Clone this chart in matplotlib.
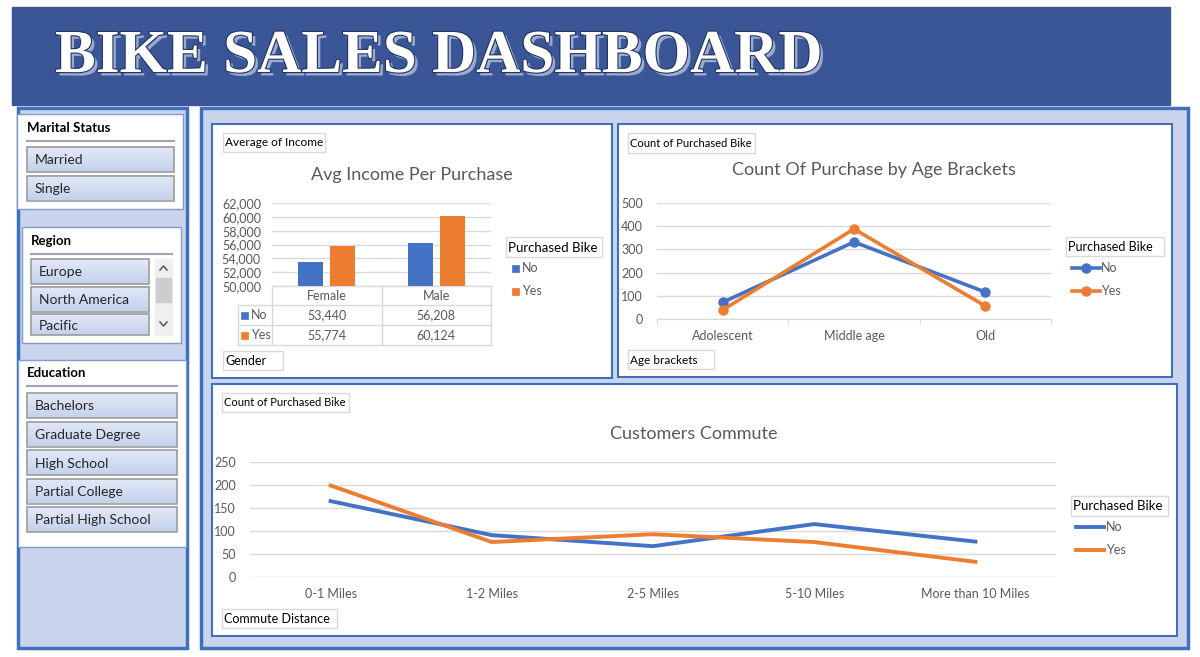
import numpy as np
import matplotlib
matplotlib.use('Agg')
import matplotlib.pyplot as plt
from matplotlib.patches import Rectangle
from matplotlib.colors import LinearSegmentedColormap
from matplotlib import patheffects as pe

plt.rcParams['font.family'] = ['Lato', 'DejaVu Sans']

# ---- data ----
genders = ['Female', 'Male']
income_no = [53440, 56208]
income_yes = [55774, 60124]

age_brackets = ['Adolescent', 'Middle age', 'Old']
age_no = [72, 332, 116]
age_yes = [39, 388, 56]

commute = ['0-1 Miles', '1-2 Miles', '2-5 Miles', '5-10 Miles', 'More than 10 Miles']
commute_no = [165, 91, 67, 115, 77]
commute_yes = [199, 76, 93, 76, 33]

marital = ['Married', 'Single']
regions = ['Europe', 'North America', 'Pacific']
education = ['Bachelors', 'Graduate Degree', 'High School', 'Partial College', 'Partial High School']

# ---- style ----
BLUE = '#4472C4'
ORANGE = '#ED7D31'
GRID = '#D9D9D9'
TXT = '#595959'
FRAME = '#3F6FBF'
PANEL = '#CAD4EC'
W, H = 1200, 657

fig = plt.figure(figsize=(12, 6.57), dpi=100)
bg = fig.add_axes([0, 0, 1, 1])
bg.axis('off')

btn_cmap = LinearSegmentedColormap.from_list('btn', ['#E3EAF7', '#C3D1EC'])


def box(x0, y0, x1, y1, fc='white', ec=FRAME, lw=1.0, z=1):
    bg.add_patch(Rectangle((x0, y0), x1 - x0, y1 - y0, facecolor=fc,
                           edgecolor=ec, linewidth=lw, zorder=z))


def button(x0, y0, x1, y1, label):
    grad = np.linspace(0, 1, 32).reshape(-1, 1)
    bg.imshow(grad, extent=(x0, x1, y1, y0), aspect='auto', cmap=btn_cmap,
              origin='upper', zorder=2)
    box(x0, y0, x1, y1, fc='none', ec='#9C9C9C', lw=1.2, z=3)
    bg.text(x0 + 8, (y0 + y1) / 2 + 1, label, fontsize=10, color='#262626',
            va='center', ha='left', zorder=4)


def slicer_title(x0, x1, y, label):
    bg.text(x0, y, label, fontsize=9.5, fontweight='bold', color='black',
            va='center', ha='left', zorder=4)
    bg.plot([x0, x1], [y + 13, y + 13], color='#9AA6B8', lw=1.5, zorder=4)


def label_box(x0, y0, x1, y1, label, size=8.5):
    box(x0, y0, x1, y1, fc='white', ec=GRID, lw=1, z=5)
    bg.text(x0 + 2, (y0 + y1) / 2 + 0.5, label, fontsize=size, color='black',
            va='center', ha='left', zorder=6)


def px_axes(x0, y0, x1, y1):
    ax = fig.add_axes([x0 / W, 1 - y1 / H, (x1 - x0) / W, (y1 - y0) / H])
    ax.set_facecolor('none')
    for s in ax.spines.values():
        s.set_visible(False)
    return ax


# ---- header ----
box(12, 7, 1170, 105, fc='#3B5697', ec='#3B5697', z=1)
bg.text(55, 57, 'BIKE SALES DASHBOARD', fontsize=44, fontweight='bold',
        family='Liberation Serif', color='white', va='center', ha='left', zorder=5,
        path_effects=[pe.SimplePatchShadow(offset=(2.5, -2.5), shadow_rgbFace='#9AAAD0', alpha=1),
                      pe.Stroke(linewidth=1.6, foreground='#22345F'), pe.Normal()])

# ---- sidebar ----
box(18, 108, 187, 648, fc=PANEL, ec=FRAME, lw=2.5)

box(17, 114, 183, 209, fc='white', ec='#7F9CCB', lw=1, z=2)
slicer_title(27, 174, 128, 'Marital Status')
for i, m in enumerate(marital):
    button(27, 147 + i * 28.5, 174, 172 + i * 28.5, m)

box(22, 227, 181, 343, fc='white', ec='#7F9CCB', lw=1, z=2)
slicer_title(31, 172, 241, 'Region')
for i, r in enumerate(regions):
    y0 = 259 + i * 27.5
    button(31, y0, 149, min(y0 + 25, 335), r)
box(155, 259, 172, 335, fc='#F0F0F0', ec='#F0F0F0', z=3)
box(156, 278, 171, 302, fc='#CDCDCD', ec='#CDCDCD', z=4)
bg.plot([160, 163.5, 167], [270, 266, 270], color='#606060', lw=1.2, zorder=5)
bg.plot([160, 163.5, 167], [322, 326, 322], color='#606060', lw=1.2, zorder=5)

box(18, 360, 186, 547, fc='white', ec='#7F9CCB', lw=1, z=2)
slicer_title(27, 177, 373, 'Education')
for i, e in enumerate(education):
    button(27, 393 + i * 28.5, 177, 418 + i * 28.5, e)

# ---- main panel ----
box(201, 108, 1188, 648, fc=PANEL, ec=FRAME, lw=2.5)
box(212, 124, 612, 378, fc='white', ec=FRAME, lw=1.5, z=2)
box(618, 124, 1172, 377, fc='white', ec=FRAME, lw=1.5, z=2)
box(212, 384, 1177, 636, fc='white', ec=FRAME, lw=1.5, z=2)

# ---- chart 1 : avg income ----
label_box(223, 133, 325, 152, 'Average of Income')
label_box(223, 351, 283, 370, 'Gender', size=9)
bg.text(412, 175, 'Avg Income Per Purchase', fontsize=13, color=TXT,
        ha='center', va='center', zorder=6)

ax1 = px_axes(272, 203, 491, 286)
x = np.arange(len(genders))
ax1.bar(x - 0.145, income_no, 0.23, color=BLUE, zorder=3)
ax1.bar(x + 0.145, income_yes, 0.23, color=ORANGE, zorder=3)
ax1.set_xlim(-0.5, len(genders) - 0.5)
ax1.set_ylim(50000, 62000)
yt = np.arange(50000, 62001, 2000)
ax1.set_yticks(yt)
ax1.set_yticklabels([f'{v:,}' for v in yt])
ax1.set_xticks([])
ax1.tick_params(axis='y', length=0, pad=8, labelsize=9, labelcolor=TXT)
ax1.grid(axis='y', color=GRID, lw=1, zorder=0)
ax1.set_axisbelow(True)

# data table under chart 1
cols = [238, 272, 381.5, 491]
rows = [286, 305, 325, 345]
for xv in cols[1:]:
    bg.plot([xv, xv], [rows[0], rows[-1]], color=GRID, lw=1, zorder=5)
bg.plot([cols[0], cols[0]], [rows[1], rows[-1]], color=GRID, lw=1, zorder=5)
bg.plot([cols[1], cols[-1]], [rows[0], rows[0]], color=GRID, lw=1, zorder=5)
for yv in rows[1:]:
    bg.plot([cols[0], cols[-1]], [yv, yv], color=GRID, lw=1, zorder=5)
for j, g in enumerate(genders):
    cx = (cols[j + 1] + cols[j + 2]) / 2
    bg.text(cx, 296, g, fontsize=9, color=TXT, ha='center', va='center', zorder=6)
    bg.text(cx, 315, f'{income_no[j]:,}', fontsize=9, color=TXT, ha='center', va='center', zorder=6)
    bg.text(cx, 335, f'{income_yes[j]:,}', fontsize=9, color=TXT, ha='center', va='center', zorder=6)
for yy, name, col in [(315, 'No', BLUE), (335, 'Yes', ORANGE)]:
    box(241, yy - 3.5, 248, yy + 3.5, fc=col, ec=col, lw=0.5, z=6)
    bg.text(251, yy, name, fontsize=9, color=TXT, ha='left', va='center', zorder=6)

# legend chart 1
label_box(506, 237, 602, 257, 'Purchased Bike', size=9.5)
for yy, name, col in [(268, 'No', BLUE), (291, 'Yes', ORANGE)]:
    box(512, yy - 3.5, 519, yy + 3.5, fc=col, ec=col, lw=0.5, z=6)
    bg.text(522, yy, name, fontsize=9, color=TXT, ha='left', va='center', zorder=6)

# ---- chart 2 : age brackets ----
label_box(628, 133, 755, 153, 'Count of Purchased Bike', size=8)
label_box(628, 350, 714, 369, 'Age brackets', size=8.5)
bg.text(874, 170, 'Count Of Purchase by Age Brackets', fontsize=13, color=TXT,
        ha='center', va='center', zorder=6)

ax2 = px_axes(657, 203, 1051, 319)
xa = np.arange(len(age_brackets))
ax2.plot(xa, age_no, color=BLUE, lw=2.6, marker='o', ms=6.5, zorder=3)
ax2.plot(xa, age_yes, color=ORANGE, lw=2.6, marker='o', ms=6.5, zorder=4)
ax2.set_xlim(-0.5, len(age_brackets) - 0.5)
ax2.set_ylim(0, 500)
ax2.set_yticks(np.arange(0, 501, 100))
ax2.set_xticks(xa)
ax2.set_xticklabels(age_brackets)
ax2.set_xticks(np.arange(-0.5, len(age_brackets)), minor=True)
ax2.tick_params(axis='y', length=0, pad=10, labelsize=9, labelcolor=TXT)
ax2.tick_params(axis='x', which='major', length=0, pad=8, labelsize=9, labelcolor=TXT)
ax2.tick_params(axis='x', which='minor', length=4, color=GRID)
ax2.grid(axis='y', color=GRID, lw=1, zorder=0)
ax2.spines['bottom'].set_visible(True)
ax2.spines['bottom'].set_color(GRID)
ax2.set_axisbelow(True)
for a in (ax2.lines):
    a.set_clip_on(False)

# legend chart 2
label_box(1066, 237, 1164, 256, 'Purchased Bike', size=9)
for yy, name, col in [(268, 'No', BLUE), (291, 'Yes', ORANGE)]:
    bg.plot([1072, 1100], [yy, yy], color=col, lw=2.6, zorder=6)
    bg.plot([1086], [yy], color=col, marker='o', ms=6.5, zorder=6)
    bg.text(1101, yy, name, fontsize=9, color=TXT, ha='left', va='center', zorder=6)

# ---- chart 3 : commute ----
label_box(222, 393, 349, 412, 'Count of Purchased Bike', size=8)
label_box(222, 609, 337, 628, 'Commute Distance', size=9)
bg.text(694, 434, 'Customers Commute', fontsize=13, color=TXT,
        ha='center', va='center', zorder=6)

ax3 = px_axes(250, 462, 1056, 577)
xc = np.arange(len(commute))
ax3.plot(xc, commute_no, color=BLUE, lw=2.8, zorder=3)
ax3.plot(xc, commute_yes, color=ORANGE, lw=2.8, zorder=4)
ax3.set_xlim(-0.5, len(commute) - 0.5)
ax3.set_ylim(0, 250)
ax3.set_yticks(np.arange(0, 251, 50))
ax3.set_xticks(xc)
ax3.set_xticklabels(commute)
ax3.tick_params(axis='y', length=0, pad=10, labelsize=9, labelcolor=TXT)
ax3.tick_params(axis='x', length=0, pad=8, labelsize=9, labelcolor=TXT)
ax3.grid(axis='y', color=GRID, lw=1, zorder=0)
ax3.set_axisbelow(True)

# legend chart 3
label_box(1071, 496, 1168, 516, 'Purchased Bike', size=9.5)
for yy, name, col in [(527, 'No', BLUE), (550, 'Yes', ORANGE)]:
    bg.plot([1076, 1104], [yy, yy], color=col, lw=2.8, zorder=6)
    bg.text(1106, yy, name, fontsize=9, color=TXT, ha='left', va='center', zorder=6)

bg.set_xlim(0, W)
bg.set_ylim(H, 0)

fig.savefig('out.png', dpi=100, facecolor='white')
